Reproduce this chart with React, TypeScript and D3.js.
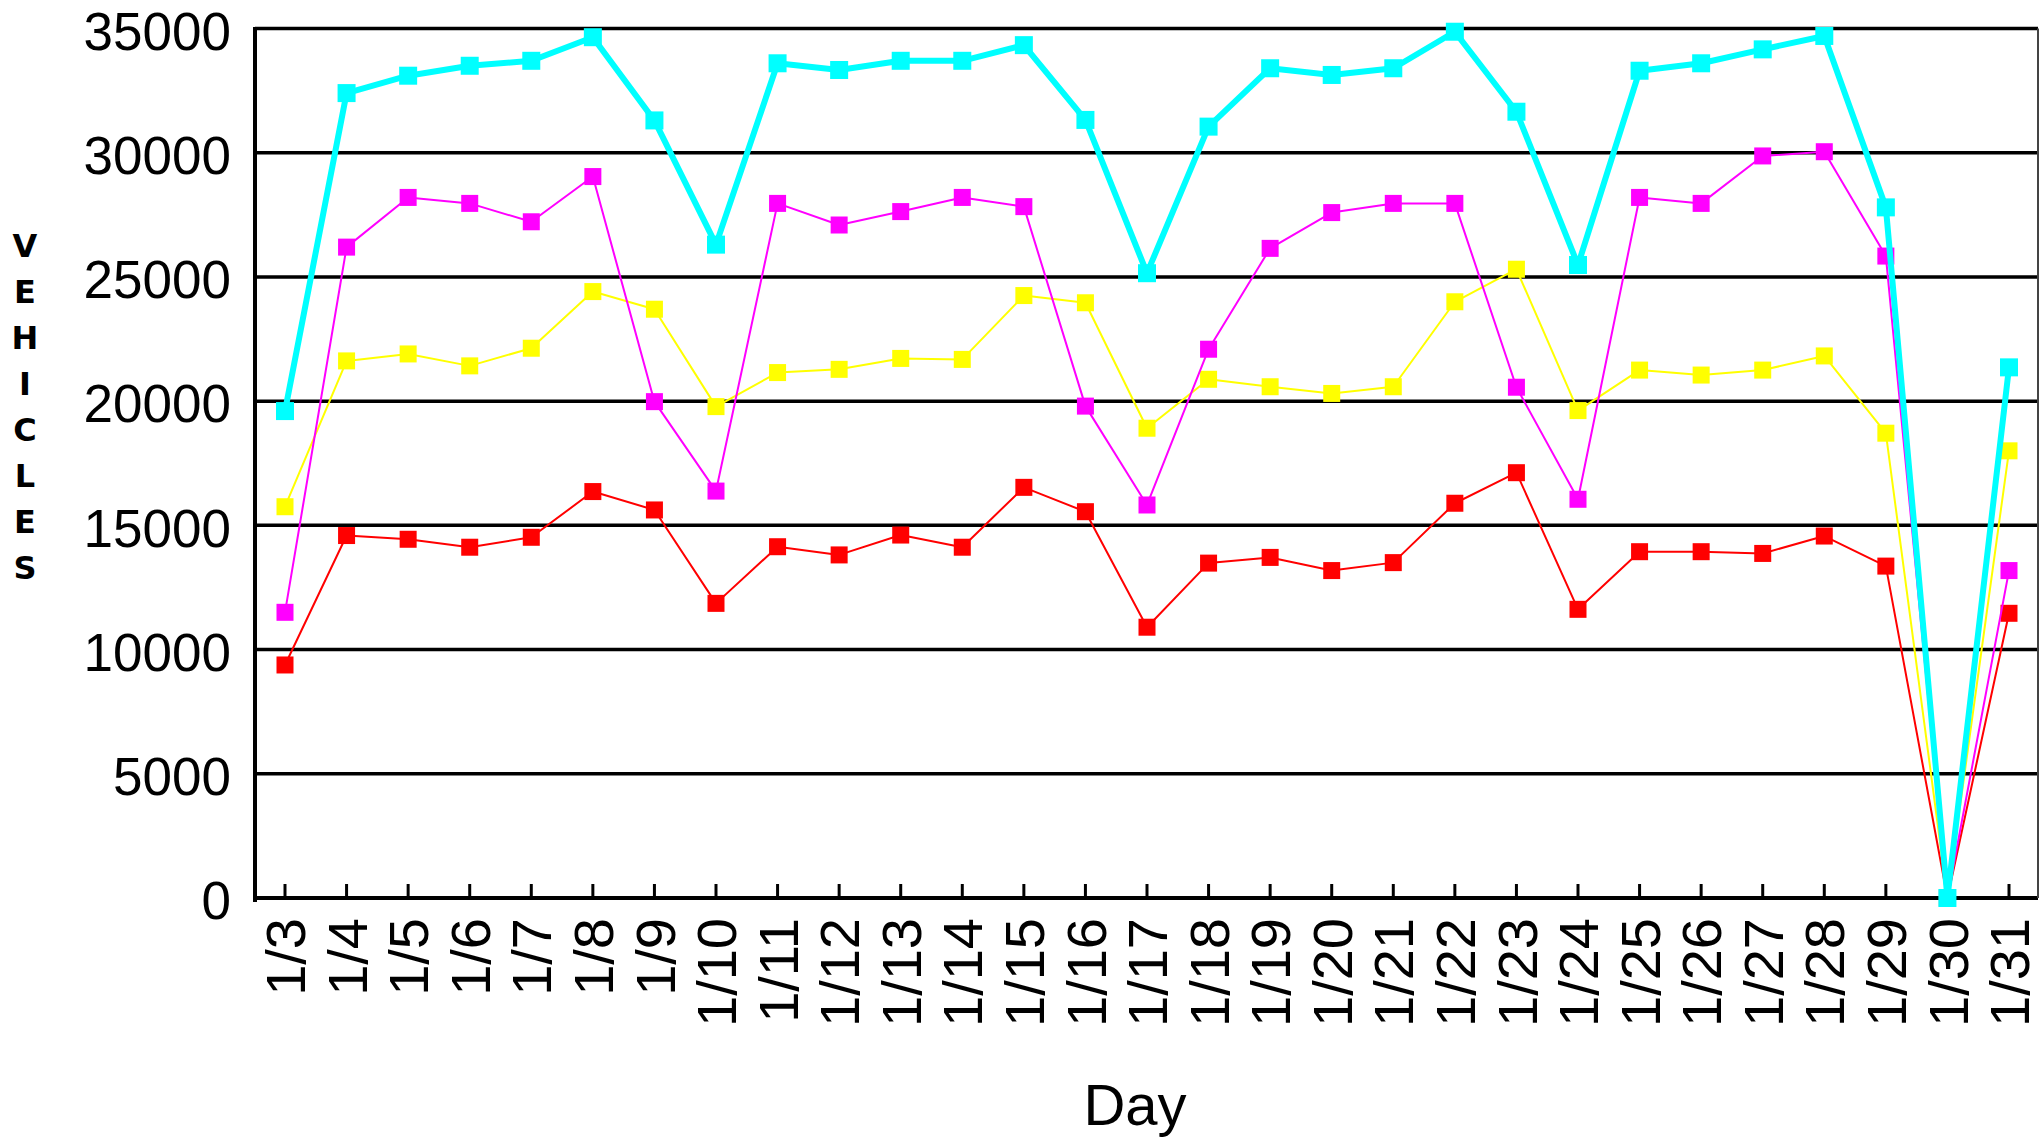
import { useEffect } from "react";
import * as d3 from "d3";

const days = [
  "1/3", "1/4", "1/5", "1/6", "1/7", "1/8", "1/9", "1/10", "1/11", "1/12",
  "1/13", "1/14", "1/15", "1/16", "1/17", "1/18", "1/19", "1/20", "1/21",
  "1/22", "1/23", "1/24", "1/25", "1/26", "1/27", "1/28", "1/29", "1/30", "1/31",
];

const redValues = [
  9380, 14590, 14440, 14120, 14520, 16360, 15620, 11860, 14140, 13810, 14610,
  14120, 16530, 15550, 10900, 13480, 13710, 13180, 13500, 15890, 17120, 11620,
  13940, 13940, 13870, 14570, 13360, 0, 11460,
];

const yellowValues = [
  15750, 21620, 21900, 21420, 22130, 24410, 23700, 19780, 21150, 21280, 21720,
  21680, 24250, 23960, 18910, 20880, 20580, 20310, 20580, 24000, 25310, 19620,
  21250, 21050, 21250, 21820, 18710, 0, 18000,
];

const magentaValues = [
  11500, 26200, 28200, 27960, 27220, 29040, 19980, 16380, 27960, 27090, 27630,
  28200, 27830, 19800, 15820, 22090, 26150, 27590, 27960, 27960, 20560, 16050,
  28200, 27960, 29870, 30040, 25840, 0, 13180,
];

const cyanValues = [
  19600, 32400, 33100, 33500, 33700, 34650, 31300, 26300, 33600, 33330, 33700,
  33700, 34330, 31320, 25150, 31050, 33400, 33130, 33400, 34870, 31650, 25480,
  33300, 33600, 34160, 34700, 27800, 0, 21360,
];

const yTicks = [0, 5000, 10000, 15000, 20000, 25000, 30000, 35000];
const yTitle = "VEHICLES";
const xTitle = "Day";

const series = [
  { name: "red", values: redValues, color: "#ff0000", width: 2, size: 17 },
  { name: "yellow", values: yellowValues, color: "#ffff00", width: 2, size: 17 },
  { name: "magenta", values: magentaValues, color: "#ff00ff", width: 2, size: 17 },
  { name: "cyan", values: cyanValues, color: "#00ffff", width: 6, size: 18 },
];

const W = 2040;
const H = 1140;
const plotLeft = 255;
const plotRight = 2038;
const plotTop = 28.5;
const plotBottom = 898;
const numFont = "'Liberation Sans', Arial, sans-serif";

const App = () => {
  useEffect(() => {
    document.body.style.margin = "0";
  }, []);

  const x = d3.scalePoint<string>().domain(days).range([285, 2009]);
  const y = d3.scaleLinear().domain([0, 35000]).range([plotBottom, plotTop]);

  return (
    <svg width={W} height={H} style={{ display: "block", background: "#fff" }}>
      {/* gridlines */}
      {yTicks.map((t) => (
        <line
          key={"g" + t}
          x1={plotLeft}
          x2={plotRight}
          y1={y(t)}
          y2={y(t)}
          stroke="#000"
          strokeWidth={t === 0 ? 4 : 3.5}
        />
      ))}
      {/* right border */}
      <line x1={plotRight} x2={plotRight} y1={plotTop} y2={plotBottom} stroke="#444" strokeWidth={2} />
      {/* left axis */}
      <line x1={plotLeft} x2={plotLeft} y1={plotTop - 1.5} y2={plotBottom + 4} stroke="#000" strokeWidth={4} />
      {/* x ticks */}
      {days.map((d) => (
        <line key={"t" + d} x1={x(d)} x2={x(d)} y1={plotBottom} y2={plotBottom - 14} stroke="#000" strokeWidth={3} />
      ))}

      {/* y tick labels */}
      {yTicks.map((t) => (
        <text
          key={"yl" + t}
          x={231}
          y={y(t)}
          dy="0.4em"
          textAnchor="end"
          fontFamily={numFont}
          fontSize={53}
          fill="#000"
        >
          {t}
        </text>
      ))}

      {/* x tick labels */}
      {days.map((d) => (
        <text
          key={"xl" + d}
          transform={`translate(${x(d)},918) rotate(-90)`}
          dy="0.36em"
          textAnchor="end"
          fontFamily={numFont}
          fontSize={56}
          fill="#000"
        >
          {d}
        </text>
      ))}

      {/* axis titles */}
      {yTitle.split("").map((ch, i) => (
        <text
          key={"vt" + i}
          x={25}
          y={245 + i * 46}
          dy="0.36em"
          textAnchor="middle"
          fontFamily="'DejaVu Sans', Verdana, sans-serif"
          fontWeight="bold"
          fontSize={32}
          fill="#000"
        >
          {ch}
        </text>
      ))}
      <text x={1135} y={1125} textAnchor="middle" fontFamily={numFont} fontSize={58} fill="#000">
        {xTitle}
      </text>

      {/* series */}
      {series.map((s) => {
        const line = d3
          .line<number>()
          .x((_v, i) => x(days[i])!)
          .y((v) => y(v));
        return (
          <g key={s.name}>
            <path d={line(s.values) ?? ""} fill="none" stroke={s.color} strokeWidth={s.width} strokeLinejoin="round" />
            {s.values.map((v, i) => (
              <rect
                key={i}
                x={x(days[i])! - s.size / 2}
                y={y(v) - s.size / 2}
                width={s.size}
                height={s.size}
                fill={s.color}
              />
            ))}
          </g>
        );
      })}
    </svg>
  );
};

export default App;
